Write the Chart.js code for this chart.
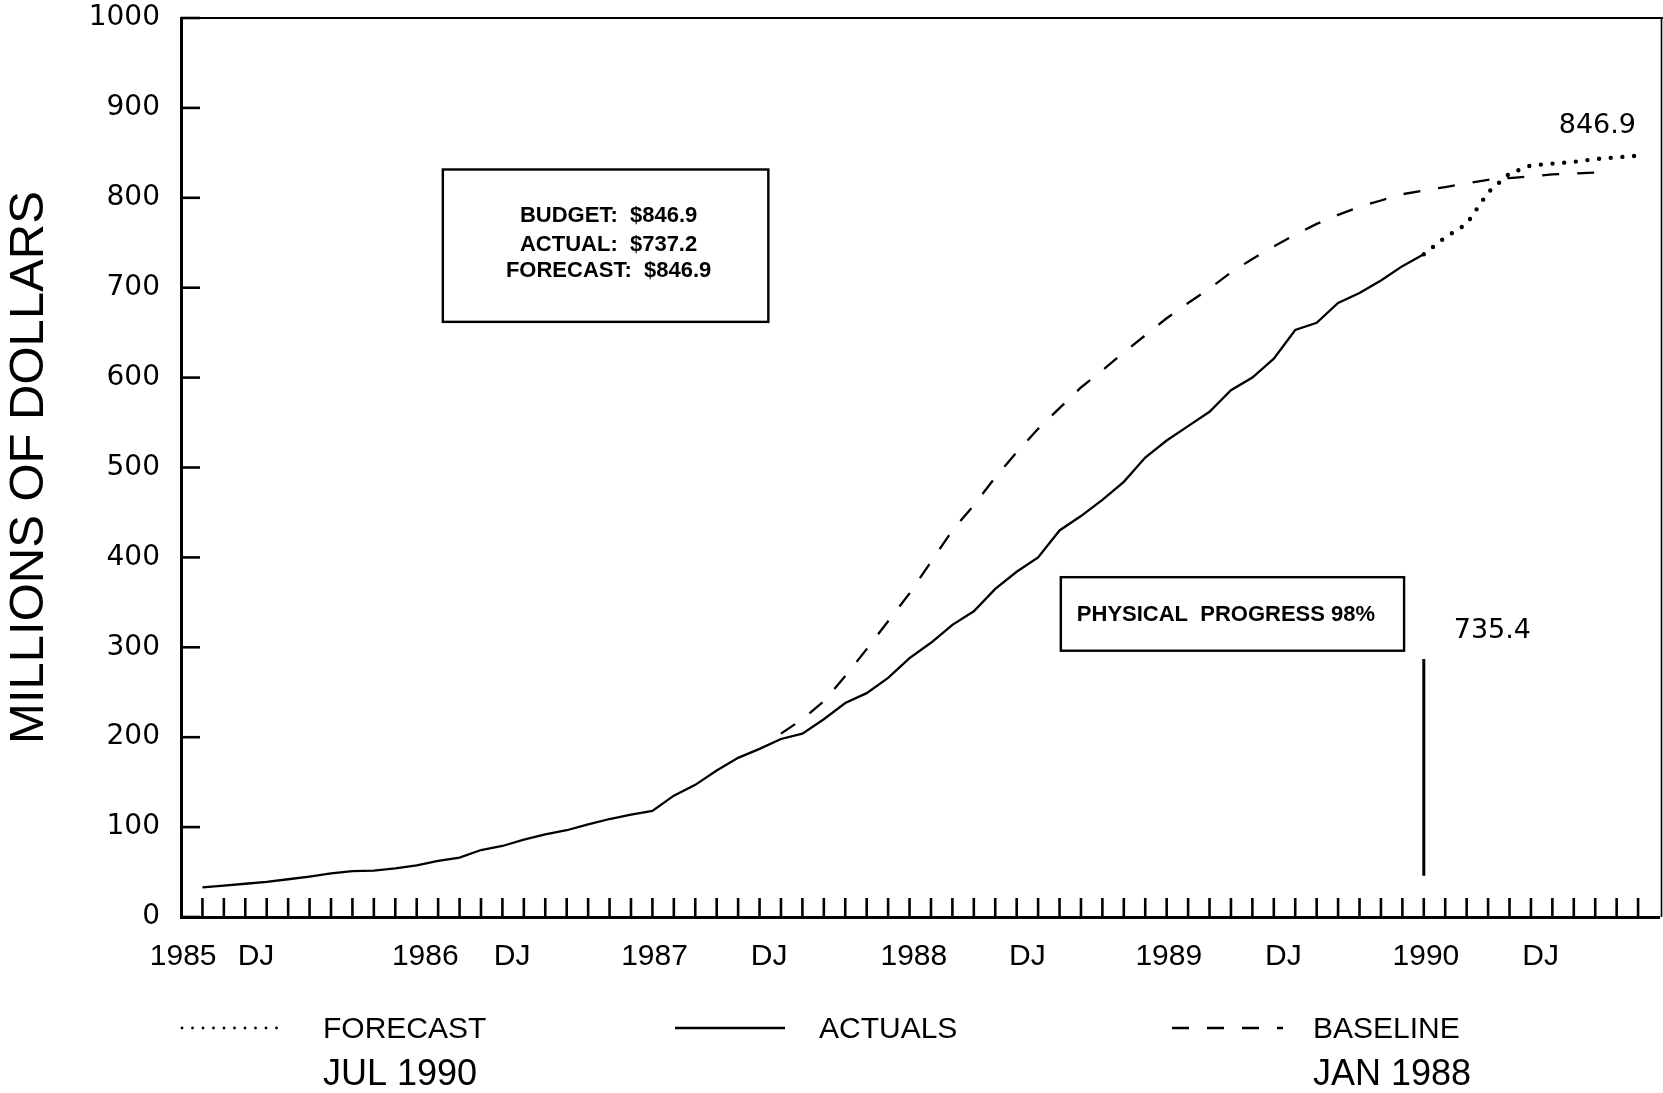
<!DOCTYPE html>
<html>
<head>
<meta charset="utf-8">
<script src="https://cdn.jsdelivr.net/npm/chart.js@4.4.0/dist/chart.umd.min.js"></script>
<style>html,body{margin:0;padding:0;background:#fff;}canvas{display:block;}</style>
</head>
<body>
<canvas id="c" width="1663" height="1093"></canvas>
<script>
// ---- categories (monthly reporting periods) ----
const months = [
  'OCT 1985','NOV 1985','DEC 1985',
  'JAN 1986','FEB 1986','MAR 1986','APR 1986','MAY 1986','JUN 1986','JUL 1986','AUG 1986','SEP 1986','OCT 1986','NOV 1986','DEC 1986',
  'JAN 1987','FEB 1987','MAR 1987','APR 1987','MAY 1987','JUN 1987','JUL 1987','AUG 1987','SEP 1987','OCT 1987','NOV 1987','DEC 1987',
  'JAN 1988','FEB 1988','MAR 1988','APR 1988','MAY 1988','JUN 1988','JUL 1988','AUG 1988','SEP 1988','OCT 1988','NOV 1988','DEC 1988',
  'JAN 1989','FEB 1989','MAR 1989','APR 1989','MAY 1989','JUN 1989','JUL 1989','AUG 1989','SEP 1989','OCT 1989','NOV 1989','DEC 1989',
  'JAN 1990','FEB 1990','MAR 1990','APR 1990','MAY 1990','JUN 1990','JUL 1990','AUG 1990','SEP 1990','OCT 1990','NOV 1990','DEC 1990',
  'JAN 1991','FEB 1991','MAR 1991','APR 1991','MAY 1991'
];

// ---- series values (millions of dollars, cumulative) ----
const actualsStart = 'OCT 1985';
const actuals = [
  33, 35, 37, 39, 42, 45, 48.5, 51, 51.5, 54, 57.5, 62.5, 66, 74.5, 79, 86, 92, 96.5, 103, 109,
  114, 118, 135, 147, 163, 177, 187, 198, 204, 220, 238, 249, 266, 288, 305, 325, 340, 365, 384, 400,
  430, 446, 464, 484, 511, 530, 546, 562, 586, 600, 621, 653, 661, 683, 694, 708, 724, 737.2
];

const baselineStart = 'JAN 1988';
const baseline = [
  204, 220, 240, 268, 298, 329, 360, 395, 430, 458, 489, 517, 543, 566, 589, 608, 628, 647, 666, 683,
  699, 717, 732, 746, 759, 771, 781, 790, 797, 804, 808, 812, 816, 820, 822, 824, 826, 827, 828
];

const forecastStart = 'JUL 1990';
const forecast = [737.2, 756, 771, 806, 827, 836, 838, 840, 843, 845, 846.9];

// data-date marker (vertical bar) and its value label
const dataDate = 'JUL 1990';
const dataDateBar = [46, 287];
const dataDateLabel = '735.4';
const budgetLabel = '846.9';

// ---- tick labels ----
const yTickStep = 100;
const xTickLabels = ['1985', 'DJ', '1986', 'DJ', '1987', 'DJ', '1988', 'DJ', '1989', 'DJ', '1990', 'DJ'];
const xTickAt     = [-0.9, 2.5, 10.4, 14.45, 21.1, 26.45, 33.2, 38.5, 45.1, 50.45, 57.1, 62.45];

// ---- text blocks ----
const summaryLines = ['BUDGET:  $846.9', 'ACTUAL:  $737.2', 'FORECAST:  $846.9'];
const progressText = 'PHYSICAL  PROGRESS 98%';
const legendItems = [
  {label: 'FORECAST', sub: 'JUL 1990'},
  {label: 'ACTUALS', sub: ''},
  {label: 'BASELINE', sub: 'JAN 1988'}
];

// ---------------------------------------------------------------
const idx = m => months.indexOf(m);
const series = (start, vals) => vals.map((v, k) => ({x: idx(start) + k, y: v}));

const styles = {
  actuals:  {borderWidth: 2.3, borderDash: []},
  baseline: {borderWidth: 2.3, borderDash: [17, 18]},
  forecast: {borderWidth: 4.4, borderDash: [0, 11.7], borderCapStyle: 'round'}
};

function line(ctx, x1, y1, x2, y2) { ctx.beginPath(); ctx.moveTo(x1, y1); ctx.lineTo(x2, y2); ctx.stroke(); }

const decor = {
  id: 'decor',
  afterDraw(chart) {
    const {ctx, chartArea: a, scales: {x, y}} = chart;
    ctx.save();
    ctx.strokeStyle = '#000';
    ctx.fillStyle = '#000';
    // inward month ticks
    ctx.lineWidth = 2.6;
    months.forEach((m, i) => { const px = x.getPixelForValue(i); line(ctx, px, a.bottom, px, a.bottom - 19); });
    // inward value ticks
    y.ticks.forEach(t => { const py = y.getPixelForValue(t.value); line(ctx, a.left, py, a.left + 19, py); });
    // frame top / right
    ctx.lineWidth = 2.2;
    line(ctx, a.left, a.top, 1663, a.top);
    ctx.lineWidth = 1.6;
    line(ctx, 1661.5, a.top, 1661.5, a.bottom);

    // summary box
    const bx1 = x.getPixelForValue(11.22), bx2 = x.getPixelForValue(26.41);
    const by1 = y.getPixelForValue(831.5), by2 = y.getPixelForValue(662);
    ctx.lineWidth = 2.4;
    ctx.strokeRect(bx1, by1, bx2 - bx1, by2 - by1);
    ctx.font = 'bold 22px "Liberation Sans", Arial, sans-serif';
    ctx.textAlign = 'center';
    ctx.textBaseline = 'middle';
    const cx = (bx1 + bx2) / 2 + 3;
    [216, 245, 271].forEach((py, i) => ctx.fillText(summaryLines[i], cx, py));

    // physical progress box
    const px1 = x.getPixelForValue(40.06), px2 = x.getPixelForValue(56.08);
    const py1 = y.getPixelForValue(378), py2 = y.getPixelForValue(296.2);
    ctx.strokeRect(px1, py1, px2 - px1, py2 - py1);
    ctx.font = 'bold 22px "Liberation Sans", Arial, sans-serif';
    ctx.textAlign = 'left';
    ctx.fillText(progressText, px1 + 16, (py1 + py2) / 2 + 1);

    // value labels
    ctx.font = '27px "DejaVu Sans", sans-serif';
    ctx.textAlign = 'center';
    ctx.fillText(dataDateLabel, x.getPixelForValue(60.2), y.getPixelForValue(318));
    ctx.fillText(budgetLabel, x.getPixelForValue(65.1), y.getPixelForValue(880));

    // legend
    const sx = [[182, 286], [675, 785], [1172, 1283]];
    const tx = [323, 819, 1313];
    const st = [styles.forecast, styles.actuals, styles.baseline];
    legendItems.forEach((it, i) => {
      ctx.save();
      ctx.lineWidth = i === 0 ? 2.8 : st[i].borderWidth;
      ctx.setLineDash(i === 0 ? [0, 10.5] : st[i].borderDash);
      ctx.lineCap = st[i].borderCapStyle || 'butt';
      line(ctx, sx[i][0], 1028, sx[i][1], 1028);
      ctx.restore();
      ctx.font = '30px "Liberation Sans", Arial, sans-serif';
      ctx.textAlign = 'left';
      ctx.textBaseline = 'middle';
      ctx.fillText(it.label, tx[i], 1030);
      if (it.sub) {
        ctx.font = '36px "Liberation Sans", Arial, sans-serif';
        ctx.fillText(it.sub, tx[i], 1075);
      }
    });
    ctx.restore();
  }
};

new Chart(document.getElementById('c'), {
  type: 'line',
  data: {
    datasets: [
      Object.assign({label: 'ACTUALS', data: series(actualsStart, actuals)}, styles.actuals),
      Object.assign({label: 'BASELINE', data: series(baselineStart, baseline)}, styles.baseline),
      Object.assign({label: 'FORECAST', data: series(forecastStart, forecast)}, styles.forecast),
      {label: 'DATA DATE', data: dataDateBar.map(v => ({x: idx(dataDate), y: v})), borderWidth: 3}
    ].map(d => Object.assign({borderColor: '#000', backgroundColor: '#000', pointRadius: 0, fill: false, tension: 0}, d))
  },
  options: {
    responsive: false,
    animation: false,
    devicePixelRatio: 1,
    layout: {padding: {left: 0, right: 3.5, top: 18, bottom: 0}},
    plugins: {legend: {display: false}, tooltip: {enabled: false}},
    scales: {
      x: {
        type: 'linear', min: -1, max: 68,
        afterFit(s) { s.height = 176; s.paddingLeft = 0; s.paddingRight = 0; },
        afterBuildTicks(s) { s.ticks = xTickAt.map(v => ({value: v})); },
        grid: {display: false, drawTicks: false},
        border: {display: true, color: '#000', width: 3},
        ticks: {
          autoSkip: false, maxRotation: 0, minRotation: 0, padding: 22, color: '#000',
          font: {family: 'Liberation Sans', size: 30},
          callback: (v, i) => xTickLabels[i]
        }
      },
      y: {
        min: 0, max: 1000,
        afterFit(s) { s.width = 181; s.paddingTop = 0; s.paddingBottom = 0; },
        grid: {display: false, drawTicks: false},
        border: {display: true, color: '#000', width: 3},
        ticks: {
          stepSize: yTickStep, padding: 21, color: '#000',
          font: {family: 'DejaVu Sans', size: 28},
          callback: v => String(v)
        },
        title: {
          display: true, text: 'MILLIONS OF DOLLARS', color: '#000',
          font: {family: 'Liberation Sans', size: 49}, padding: {top: 0, bottom: 0}
        }
      }
    }
  },
  plugins: [decor]
});
</script>
</body>
</html>
